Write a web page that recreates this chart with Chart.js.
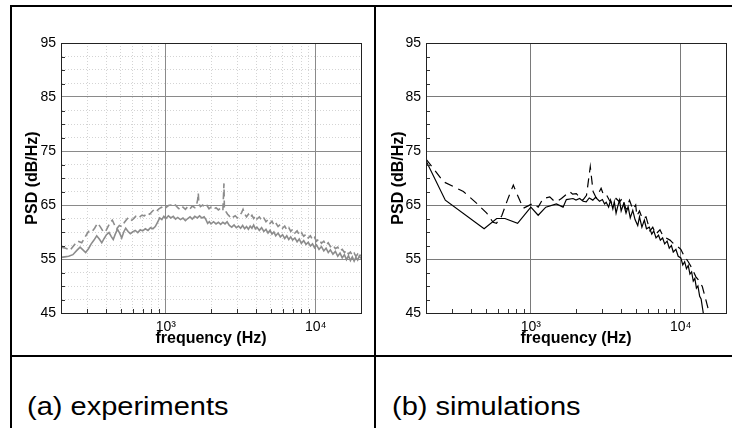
<!DOCTYPE html>
<html>
<head>
<meta charset="utf-8">
<script src="https://cdn.jsdelivr.net/npm/chart.js@4/dist/chart.umd.min.js"></script>
<style>
  html, body { margin: 0; padding: 0; background: #fff; }
  body { width: 732px; height: 428px; position: relative; overflow: hidden; font-family: "Liberation Sans", Arial, sans-serif; }
  .ln { position: absolute; background: #000; }
  canvas { position: absolute; }
  .cap { position: absolute; font-size: 25px; line-height: 25px; color: #000; transform: scaleX(1.16); transform-origin: left top; white-space: nowrap; }
</style>
</head>
<body>
<div class="ln" style="left:10px;top:5px;width:722px;height:2px"></div>
<div class="ln" style="left:10px;top:355px;width:722px;height:2px"></div>
<div class="ln" style="left:10px;top:5px;width:2px;height:423px"></div>
<div class="ln" style="left:374px;top:5px;width:2px;height:423px"></div>
<canvas id="cA" width="362" height="346" style="left:12px;top:8px"></canvas>
<canvas id="cB" width="354" height="346" style="left:378px;top:8px"></canvas>
<div class="cap" style="left:27px;top:394px">(a) experiments</div>
<div class="cap" style="left:392px;top:394px">(b) simulations</div>
<script>
// ---------- axis ticks ----------
const xMajorTicks = [1000, 10000];
const xMinorTicks = [200, 300, 400, 500, 600, 700, 800, 900, 2000, 3000, 4000, 5000, 6000, 7000, 8000, 9000, 20000];
const xTickLabels = {1000: '10\u00B3', 10000: '10\u2074'};
const yMajorTicks = [45, 55, 65, 75, 85, 95];
const yMinorTicks = [47.5, 50, 52.5, 57.5, 60, 62.5, 67.5, 70, 72.5, 77.5, 80, 82.5, 87.5, 90, 92.5];

// ---------- (a) experiments ----------
const expSolidFreq = [200,212,225,240,255,268,280,292,305,318,332,346,360,374,388,402,418,432,446,460,476,492,508,524,540,560,580,600,625,650,675,700,730,760,790,820,850,880,910,940,970,1000,1040,1080,1120,1160,1200,1250,1300,1350,1400,1450,1500,1560,1620,1680,1740,1800,1850,1900,1950,2000,2080,2160,2240,2320,2400,2480,2560,2650,2750,2850,2950,3050,3150,3250,3350,3450,3550,3650,3750,3850,3950,4050,4200,4350,4500,4650,4800,4950,5100,5250,5400,5600,5800,6000,6200,6400,6600,6800,7000,7250,7500,7750,8000,8300,8600,8900,9200,9500,9800,10100,10500,10900,11300,11700,12100,12500,13000,13500,14000,14500,15000,15500,16000,16500,17000,17500,18000,18500,19000,19500,20000];
const expSolidDb = [55.3,55.4,55.5,55.8,56.6,57.2,56.7,56.2,56.9,57.8,58.5,59.3,58.7,58.0,58.8,59.5,59.9,59.2,58.6,59.6,60.5,59.8,58.9,60.0,60.7,60.1,59.7,60.0,60.3,59.9,60.4,60.2,60.6,60.3,60.8,60.6,61.0,61.8,62.6,62.3,62.9,62.5,63.0,62.6,62.9,62.4,62.7,62.3,62.6,62.1,62.5,62.8,62.4,62.9,62.6,63.0,62.6,62.8,62.3,61.6,61.9,61.5,61.9,61.5,61.8,61.4,61.8,61.5,61.9,61.2,60.9,61.3,60.8,61.1,60.7,61.2,60.6,61.0,60.5,61.1,60.7,61.3,60.6,60.9,60.3,60.8,60.1,60.5,59.8,60.3,59.6,60.0,59.3,59.8,59.1,59.5,58.8,59.3,58.6,59.1,58.5,58.9,58.2,58.7,57.9,58.4,57.7,58.1,57.4,57.8,57.1,57.6,56.8,57.3,56.5,57.0,56.2,56.7,55.9,56.4,55.5,56.1,55.2,55.8,54.9,55.6,54.7,55.4,54.6,55.3,54.8,55.6,55.1];

const expDashFreq = [200,215,230,245,260,275,290,305,320,335,350,365,380,395,410,425,440,455,470,490,510,530,555,580,605,630,660,690,720,750,780,810,840,870,900,935,970,1000,1040,1080,1120,1160,1200,1250,1300,1350,1400,1450,1500,1560,1600,1630,1645,1660,1700,1760,1820,1880,1940,2000,2080,2160,2240,2320,2400,2425,2440,2455,2500,2580,2660,2740,2820,2900,3000,3100,3200,3270,3350,3450,3550,3650,3750,3850,3950,4050,4200,4350,4500,4650,4800,4950,5100,5250,5400,5600,5800,6000,6200,6400,6600,6800,7000,7250,7500,7750,8000,8300,8600,8900,9200,9500,9800,10100,10500,10900,11300,11700,12100,12500,13000,13500,14000,14500,15000,15500,16000,16500,17000,17500,18000,18500,19000,19500,20000];
const expDashDb = [57.2,57.0,56.6,57.6,58.3,58.0,59.1,60.1,60.0,60.7,61.6,61.0,60.2,60.0,60.9,61.7,62.2,61.3,60.6,61.2,61.0,61.8,62.5,62.0,62.4,62.9,62.6,63.1,63.0,63.5,63.3,63.8,64.2,63.9,64.3,64.6,64.2,64.5,64.9,65.0,64.7,65.0,64.5,64.1,64.6,64.2,64.7,64.3,64.8,64.5,64.9,66.0,67.2,65.3,64.7,65.0,64.6,64.9,64.3,64.6,64.2,64.5,64.1,64.4,64.0,67.0,69.0,64.6,63.9,63.3,62.9,63.2,62.8,63.0,62.6,63.0,63.6,64.2,63.4,62.8,63.3,62.7,63.1,62.5,63.0,62.4,62.8,62.2,62.6,61.9,62.3,61.6,62.0,61.3,61.7,61.0,61.4,60.7,61.1,60.4,60.8,60.1,60.5,59.8,60.2,59.5,59.9,59.2,59.6,58.9,59.3,58.6,59.0,58.3,58.7,57.9,58.3,57.6,58.0,57.3,57.6,56.9,57.2,56.5,56.8,56.2,56.6,55.9,56.3,55.7,56.1,55.5,55.9,55.4,55.8];

// ---------- (b) simulations ----------
const simSolidFreq = [200,269,488,592,672,816,1000,1119,1258,1480,1640,1725,1910,2000,2115,2230,2340,2450,2590,2700,2870,3000,3100,3180,3300,3400,3520,3600,3700,3800,3900,4000,4150,4310,4450,4600,4780,4950,5160,5300,5500,5710,5900,6160,6400,6600,6830,7100,7300,7560,7800,8100,8370,8650,8900,9270,9600,10000,10300,10600,10900,11200,11500,11800,12100,12400,12700,13000,13350,13650,14000,14200];
const simSolidDb = [73.2,65.9,60.6,62.5,62.5,61.6,64.6,63.1,64.6,65.2,64.6,66.0,66.2,65.9,66.2,65.7,65.6,66.3,65.9,66.4,65.7,66.0,65.2,65.5,64.6,65.9,64.3,65.6,63.5,64.8,65.9,63.9,65.2,63.5,64.7,62.6,64.0,62.3,61.2,62.8,60.9,62.2,60.6,60.9,59.6,60.2,58.9,59.4,58.5,58.9,57.8,58.3,57.0,57.5,56.3,56.8,55.5,55.2,53.9,54.5,53.2,53.8,52.2,52.6,50.9,51.4,49.6,50.0,48.1,47.6,45.6,44.5];

const simDashFreq = [200,262,355,436,508,560,590,640,700,764,800,890,1036,1120,1207,1337,1420,1480,1600,1815,1900,2010,2120,2224,2350,2490,2600,2730,2940,3050,3180,3350,3520,3700,3900,4100,4310,4550,4780,5000,5090,5300,5550,5860,6230,6500,6800,7260,7600,7960,8460,8900,9500,10000,10500,11200,11800,12600,13200,13900,14500,15300,15600];
const simDashDb = [73.5,69.3,67.5,65.3,63.5,61.8,61.6,63.0,66.0,68.7,67.3,64.4,65.3,64.6,66.2,66.5,65.8,65.6,66.2,67.5,67.0,67.1,66.4,65.9,66.8,72.1,67.5,66.3,68.1,66.9,67.0,65.8,65.3,66.2,65.6,66.3,64.2,65.9,64.2,65.0,63.0,63.9,62.4,62.8,60.2,60.9,59.6,60.4,59.3,58.9,58.5,57.9,57.3,56.8,55.6,54.5,53.4,51.7,51.0,49.9,48.0,45.5,44.5];

const FONT = '"Liberation Sans", Arial, sans-serif';
Chart.defaults.color = '#000';
Chart.defaults.font.family = FONT;

function pts(f, v) { return f.map((x, i) => ({x: x, y: v[i]})); }

function framePlugin(tickLen) {
  return {
    id: 'frame',
    afterDatasetsDraw(chart) {
      const c = chart.ctx, a = chart.chartArea;
      const xs = chart.scales.x, ys = chart.scales.y;
      c.save();
      c.strokeStyle = '#333';
      c.lineWidth = 1;
      c.beginPath();
      xMinorTicks.forEach(v => {
        const px = Math.round(xs.getPixelForValue(v)) + 0.5;
        c.moveTo(px, a.bottom); c.lineTo(px, a.bottom - tickLen);
      });
      yMinorTicks.forEach(v => {
        const py = Math.round(ys.getPixelForValue(v)) + 0.5;
        c.moveTo(a.left, py); c.lineTo(a.left + tickLen, py);
      });
      c.stroke();
      c.strokeStyle = '#222';
      c.strokeRect(Math.round(a.left) + 0.5, Math.round(a.top) + 0.5, Math.round(a.right - a.left), Math.round(a.bottom - a.top));
      c.restore();
    }
  };
}

function makeChart(id, datasets, opt) {
  return new Chart(document.getElementById(id), {
    type: 'scatter',
    data: { datasets: datasets },
    plugins: [framePlugin(4)],
    options: {
      responsive: false,
      animation: false,
      events: [],
      layout: { padding: { top: 35, right: opt.padRight, left: 0, bottom: 0 } },
      plugins: { legend: { display: false }, tooltip: { enabled: false } },
      elements: { point: { radius: 0 } },
      scales: {
        x: {
          type: 'logarithmic', min: 200, max: 20000,
          afterBuildTicks: s => { s.ticks = xMinorTicks.concat(xMajorTicks).sort((p, q) => p - q).map(v => ({value: v})); },
          afterFit: s => { s.height = 41; },
          ticks: {
            autoSkip: false, maxRotation: 0, padding: 6,
            font: { size: 14, family: FONT },
            callback: v => xTickLabels[v] || ''
          },
          grid: {
            drawTicks: false,
            color: c => (c.tick && xMajorTicks.includes(c.tick.value)) ? opt.major : opt.minor,
            lineWidth: 1
          },
          border: { display: true, color: '#222', dash: c => (c.tick && !xMajorTicks.includes(c.tick.value)) ? [1, 2] : [] },
          title: { display: true, text: 'frequency (Hz)', font: { size: 16, weight: 'bold', family: FONT }, padding: { top: 0, bottom: 6 } }
        },
        y: {
          type: 'linear', min: 45, max: 95,
          afterBuildTicks: s => { s.ticks = yMinorTicks.concat(yMajorTicks).sort((p, q) => p - q).map(v => ({value: v})); },
          afterFit: s => { s.width = opt.yWidth; },
          ticks: {
            autoSkip: false, padding: 5,
            font: { size: 14, family: FONT },
            callback: v => yMajorTicks.includes(v) ? String(v) : ''
          },
          grid: {
            drawTicks: false,
            color: c => (c.tick && yMajorTicks.includes(c.tick.value)) ? opt.major : opt.minor,
            lineWidth: 1
          },
          border: { display: true, color: '#222', dash: c => (c.tick && !yMajorTicks.includes(c.tick.value)) ? [1, 2] : [] },
          title: { display: true, text: 'PSD (dB/Hz)', font: { size: 16, weight: 'bold', family: FONT }, padding: { top: 11, bottom: 0 } }
        }
      }
    }
  });
}

makeChart('cA', [
  { data: pts(expSolidFreq, expSolidDb), showLine: true, borderColor: '#8c8c8c', borderWidth: 1.6, pointRadius: 0 },
  { data: pts(expDashFreq, expDashDb), showLine: true, borderColor: '#8c8c8c', borderWidth: 1.6, borderDash: [7, 4], pointRadius: 0 }
], { padRight: 13, yWidth: 49, major: '#8a8a8a', minor: '#d4d4d4' });

makeChart('cB', [
  { data: pts(simSolidFreq, simSolidDb), showLine: true, borderColor: '#000', borderWidth: 1.2, pointRadius: 0 },
  { data: pts(simDashFreq, simDashDb), showLine: true, borderColor: '#000', borderWidth: 1.2, borderDash: [9, 6], pointRadius: 0 }
], { padRight: 6, yWidth: 48, major: '#7a7a7a', minor: 'rgba(0,0,0,0)' });
</script>
</body>
</html>
